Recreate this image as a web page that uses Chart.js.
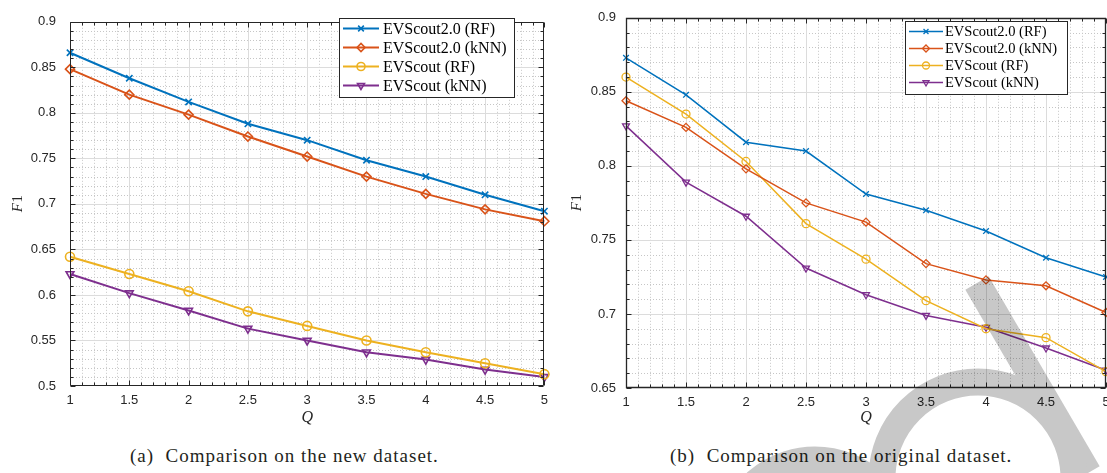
<!DOCTYPE html>
<html><head><meta charset="utf-8">
<script src="https://cdn.jsdelivr.net/npm/chart.js@4.4.0/dist/chart.umd.min.js"></script>
<style>
html,body{margin:0;padding:0;background:#fff;}
body{width:1107px;height:473px;overflow:hidden;position:relative;}
#wa{position:absolute;left:0;top:0;width:555px;height:440px;}
#wb{position:absolute;left:555px;top:0;width:565px;height:440px;}
.cap{position:absolute;top:444px;font-family:"Liberation Serif",serif;font-size:19px;letter-spacing:1px;line-height:24px;color:#231f20;white-space:pre;}
#wm{position:absolute;left:0;top:0;width:1107px;height:473px;pointer-events:none;mix-blend-mode:multiply;}
</style>
</head><body>
<div id="wa"><canvas id="ca"></canvas></div>
<div id="wb"><canvas id="cb"></canvas></div>
<div class="cap" id="capA" style="left:130px">(a)  Comparison on the new dataset.</div>
<div class="cap" id="capB" style="left:670px">(b)  Comparison on the original dataset.</div>
<canvas id="wm" width="1107" height="473"></canvas>
<script>
// ---------- data ----------
const qValues = [1, 1.5, 2, 2.5, 3, 3.5, 4, 4.5, 5];
const seriesNames = ['EVScout2.0 (RF)', 'EVScout2.0 (kNN)', 'EVScout (RF)', 'EVScout (kNN)'];

// (a) new dataset
const newEVS2RF  = [0.866, 0.838, 0.812, 0.788, 0.770, 0.748, 0.730, 0.710, 0.692];
const newEVS2KNN = [0.848, 0.820, 0.798, 0.774, 0.752, 0.730, 0.711, 0.694, 0.681];
const newEVSRF   = [0.642, 0.623, 0.604, 0.582, 0.566, 0.550, 0.537, 0.525, 0.513];
const newEVSKNN  = [0.623, 0.602, 0.583, 0.563, 0.550, 0.537, 0.529, 0.518, 0.510];

// (b) original dataset
const origEVS2RF  = [0.873, 0.848, 0.816, 0.810, 0.781, 0.770, 0.756, 0.738, 0.725];
const origEVS2KNN = [0.844, 0.826, 0.798, 0.775, 0.762, 0.734, 0.723, 0.719, 0.701];
const origEVSRF   = [0.860, 0.835, 0.803, 0.761, 0.737, 0.709, 0.690, 0.684, 0.661];
const origEVSKNN  = [0.827, 0.789, 0.766, 0.731, 0.713, 0.699, 0.691, 0.677, 0.662];

const yTickStepA = 0.05, yTickStepB = 0.05, xTickStep = 0.5;

// ---------- styles ----------
const colors = ['#0072BD', '#D95319', '#EDB120', '#7E2F8E'];
const markers = [
  {pointStyle: 'crossRot', rotation: 0},
  {pointStyle: 'rectRot', rotation: 0},
  {pointStyle: 'circle', rotation: 0},
  {pointStyle: 'triangle', rotation: 180}
];

function drawMarker(ctx, m, r, bw, x, y, color) {
  ctx.save();
  ctx.strokeStyle = color;
  ctx.fillStyle = 'rgba(0,0,0,0)';
  ctx.lineWidth = bw;
  Chart.helpers.drawPoint(ctx, {pointStyle: m.pointStyle, rotation: m.rotation, radius: r, borderWidth: bw}, x, y);
  ctx.restore();
}

const matlabPlugin = {
  id: 'matlab',
  beforeDatasetsDraw(chart, args, o) {
    const {ctx, chartArea: a} = chart;
    const xs = chart.scales.x, ys = chart.scales.y;
    ctx.save();
    ctx.beginPath(); ctx.rect(a.left, a.top, a.right - a.left, a.bottom - a.top); ctx.clip();
    ctx.lineWidth = 1;
    ctx.strokeStyle = '#c6c6c6';
    ctx.setLineDash([1, 2]);
    const nx = Math.round((xs.max - xs.min) / o.xMinor);
    for (let k = 1; k < nx; k++) {
      if (k % o.sub === 0) continue;
      const px = Math.round(xs.getPixelForValue(xs.min + k * o.xMinor)) + 0.5;
      ctx.beginPath(); ctx.moveTo(px, a.top); ctx.lineTo(px, a.bottom); ctx.stroke();
    }
    const ny = Math.round((ys.max - ys.min) / o.yMinor);
    for (let k = 1; k < ny; k++) {
      if (k % o.sub === 0) continue;
      const py = Math.round(ys.getPixelForValue(ys.min + k * o.yMinor)) + 0.5;
      ctx.beginPath(); ctx.moveTo(a.left, py); ctx.lineTo(a.right, py); ctx.stroke();
    }
    ctx.setLineDash([]);
    ctx.strokeStyle = '#dcdcdc';
    for (let k = o.sub; k < nx; k += o.sub) {
      const px = Math.round(xs.getPixelForValue(xs.min + k * o.xMinor)) + 0.5;
      ctx.beginPath(); ctx.moveTo(px, a.top); ctx.lineTo(px, a.bottom); ctx.stroke();
    }
    for (let k = o.sub; k < ny; k += o.sub) {
      const py = Math.round(ys.getPixelForValue(ys.min + k * o.yMinor)) + 0.5;
      ctx.beginPath(); ctx.moveTo(a.left, py); ctx.lineTo(a.right, py); ctx.stroke();
    }
    ctx.restore();
  },
  afterDatasetsDraw(chart, args, o) {
    const {ctx, chartArea: a} = chart;
    const xs = chart.scales.x, ys = chart.scales.y;
    ctx.save();
    ctx.strokeStyle = '#262626';
    ctx.lineWidth = o.axisWidth;
    const L = Math.round(a.left) + 0.5, R = Math.round(a.right) - 0.5, T = Math.round(a.top) + 0.5, B = Math.round(a.bottom) - 0.5;
    ctx.beginPath();
    ctx.moveTo(L, T); ctx.lineTo(R, T); ctx.lineTo(R, B); ctx.lineTo(L, B); ctx.closePath();
    ctx.stroke();
    ctx.lineWidth = 1;
    const nx = Math.round((xs.max - xs.min) / o.xMinor);
    for (let k = 0; k <= nx; k++) {
      const len = (k % o.sub === 0) ? o.majorLen : o.minorLen;
      const px = Math.round(xs.getPixelForValue(xs.min + k * o.xMinor)) + 0.5;
      ctx.beginPath();
      ctx.moveTo(px, B); ctx.lineTo(px, B - len);
      ctx.moveTo(px, T); ctx.lineTo(px, T + len);
      ctx.stroke();
    }
    const ny = Math.round((ys.max - ys.min) / o.yMinor);
    for (let k = 0; k <= ny; k++) {
      const len = (k % o.sub === 0) ? o.majorLen : o.minorLen;
      const py = Math.round(ys.getPixelForValue(ys.min + k * o.yMinor)) + 0.5;
      ctx.beginPath();
      ctx.moveTo(L, py); ctx.lineTo(L + len, py);
      ctx.moveTo(R, py); ctx.lineTo(R - len, py);
      ctx.stroke();
    }
    // axis titles
    ctx.fillStyle = '#262626';
    ctx.textBaseline = 'middle';
    const cy = (a.top + a.bottom) / 2;
    ctx.save();
    ctx.translate(o.yTitleX, cy);
    ctx.rotate(-Math.PI / 2);
    ctx.font = 'italic ' + o.titleSize + 'px "Liberation Serif"';
    const wF = ctx.measureText('F').width;
    ctx.font = o.titleSize + 'px "Liberation Serif"';
    const w1 = ctx.measureText('1').width;
    const x0 = -(wF + w1) / 2;
    ctx.textAlign = 'left';
    ctx.font = 'italic ' + o.titleSize + 'px "Liberation Serif"';
    ctx.fillText('F', x0, 0);
    ctx.font = o.titleSize + 'px "Liberation Serif"';
    ctx.fillText('1', x0 + wF + 0.5, 0);
    ctx.restore();
    ctx.textAlign = 'center';
    ctx.font = 'italic ' + (o.titleSize + 1) + 'px "Liberation Serif"';
    ctx.fillText('Q', (a.left + a.right) / 2, o.xTitleY);

    // legend
    const lg = o.legend;
    ctx.fillStyle = '#ffffff';
    ctx.fillRect(lg.x, lg.y, lg.w, lg.h);
    ctx.strokeStyle = '#262626';
    ctx.lineWidth = 1;
    ctx.strokeRect(Math.round(lg.x) + 0.5, Math.round(lg.y) + 0.5, Math.round(lg.w), Math.round(lg.h));
    ctx.textAlign = 'left';
    ctx.textBaseline = 'middle';
    ctx.font = lg.fontSize + 'px "Liberation Serif"';
    chart.data.datasets.forEach((ds, i) => {
      const ry = lg.y + lg.rowTop + i * lg.rowGap;
      ctx.strokeStyle = ds.borderColor;
      ctx.lineWidth = ds.borderWidth;
      ctx.beginPath(); ctx.moveTo(lg.x + lg.line0, ry); ctx.lineTo(lg.x + lg.line1, ry); ctx.stroke();
      drawMarker(ctx, markers[i], lg.markerR, ds.pointBorderWidth, lg.x + (lg.line0 + lg.line1) / 2, ry, ds.borderColor);
      ctx.fillStyle = '#000';
      ctx.fillText(ds.label, lg.x + lg.textX, ry + 1);
    });
    ctx.restore();
  }
};

function makeChart(id, series, cfg) {
  const datasets = series.map((vals, i) => ({
    label: seriesNames[i],
    data: qValues.map((q, j) => ({x: q, y: vals[j]})),
    borderColor: colors[i],
    backgroundColor: colors[i],
    borderWidth: cfg.lineWidth,
    pointStyle: markers[i].pointStyle,
    pointRotation: markers[i].rotation,
    pointRadius: cfg.markerR,
    pointBorderWidth: cfg.markerBW,
    pointBackgroundColor: 'rgba(0,0,0,0)',
    pointBorderColor: colors[i],
    tension: 0,
    clip: 6
  }));
  const el = document.getElementById(id);
  return new Chart(el, {
    type: 'line',
    data: {datasets},
    plugins: [matlabPlugin],
    options: {
      responsive: true,
      maintainAspectRatio: false,
      animation: false,
      events: [],
      layout: {padding: {left: 0, top: cfg.top, right: cfg.padRight, bottom: 0}},
      plugins: {
        legend: {display: false},
        tooltip: {enabled: false},
        matlab: cfg.matlab
      },
      scales: {
        x: {
          type: 'linear', min: 1, max: 5,
          grid: {display: false, drawTicks: false},
          border: {display: false},
          ticks: {stepSize: xTickStep, padding: cfg.xPad, color: '#262626', maxRotation: 0,
                  font: {family: '"Liberation Sans"', size: 13},
                  callback: v => String(+v.toFixed(1))},
          afterFit: s => { s.height = cfg.xAxisH; }
        },
        y: {
          type: 'linear', min: cfg.yMin, max: cfg.yMax,
          grid: {display: false, drawTicks: false},
          border: {display: false},
          ticks: {stepSize: cfg.yStep, padding: cfg.yPad, color: '#262626',
                  font: {family: '"Liberation Sans"', size: 13},
                  callback: v => String(+v.toFixed(2))},
          afterFit: s => { s.width = cfg.left; }
        }
      }
    }
  });
}

makeChart('ca', [newEVS2RF, newEVS2KNN, newEVSRF, newEVSKNN], {
  yMin: 0.5, yMax: 0.9, yStep: yTickStepA,
  left: 70, top: 10, padRight: 10, xAxisH: 54,
  xPad: 7, yPad: 14, lineWidth: 2, markerR: 4.5, markerBW: 1.6,
  matlab: {xMinor: 0.1, yMinor: 0.01, sub: 5, majorLen: 5, minorLen: 3, axisWidth: 1,
    yTitleX: 18, xTitleY: 418, titleSize: 15,
    legend: {x: 339, y: 18, w: 175, h: 79, rowTop: 10.5, rowGap: 19, line0: 4, line1: 40, textX: 44, markerR: 4, fontSize: 16}}
});

makeChart('cb', [origEVS2RF, origEVS2KNN, origEVSRF, origEVSKNN], {
  yMin: 0.65, yMax: 0.9, yStep: yTickStepB,
  left: 71, top: 10, padRight: 14, xAxisH: 52,
  xPad: 7, yPad: 10, lineWidth: 1.5, markerR: 4, markerBW: 1.3,
  matlab: {xMinor: 0.1, yMinor: 0.01, sub: 5, majorLen: 5, minorLen: 3, axisWidth: 1.3,
    yTitleX: 22, xTitleY: 418, titleSize: 15,
    legend: {x: 350, y: 21, w: 162, h: 73, rowTop: 10.5, rowGap: 17, line0: 4, line1: 38, textX: 40, markerR: 3.5, fontSize: 14.5}}
});

// page watermark fragment (partial letters "ed" of a diagonal stamp)
(function () {
  const c = document.getElementById('wm');
  const ctx = c.getContext('2d');
  ctx.strokeStyle = '#c8c8c8';
  ctx.lineWidth = 27;
  ctx.lineCap = 'butt';
  // stem of "d"
  ctx.beginPath(); ctx.moveTo(977, 283); ctx.lineTo(1088, 473); ctx.stroke();
  // bowl of "d"
  ctx.beginPath(); ctx.arc(978, 478, 96, Math.PI, 2 * Math.PI); ctx.stroke();
  // top of "e"
  ctx.beginPath(); ctx.arc(815, 548, 88, 1.15 * Math.PI, 1.75 * Math.PI); ctx.stroke();
})();
</script>
</body></html>
